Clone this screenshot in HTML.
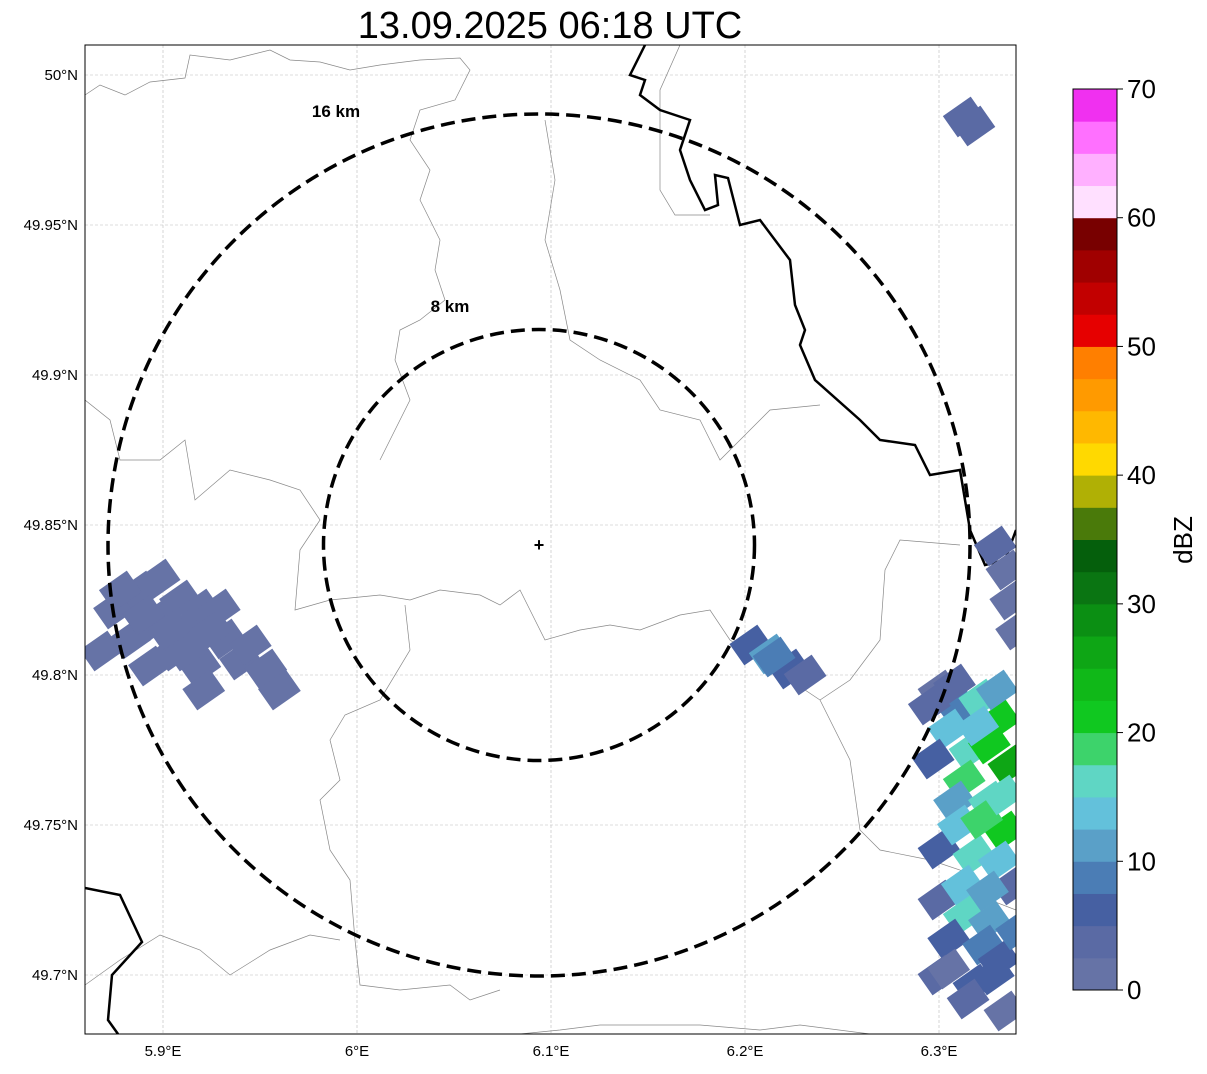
<!DOCTYPE html>
<html><head><meta charset="utf-8"><style>
body{margin:0;background:#fff;width:1207px;height:1069px;overflow:hidden;font-family:"Liberation Sans",sans-serif}
</style></head><body>
<svg id="chart" width="1207" height="1069" xmlns="http://www.w3.org/2000/svg" font-family="Liberation Sans, sans-serif">
<defs><clipPath id="mapclip"><rect x="85" y="45" width="931" height="989"/></clipPath></defs>
<text x="550" y="38" font-size="38" text-anchor="middle">13.09.2025 06:18 UTC</text>
<g id="grid"></g>
<g clip-path="url(#mapclip)">
<g id="borders" fill="none" stroke="#888" stroke-width="0.7">
<path d="M85,95 L100,85 L125,95 L150,82 L185,78 L190,55 L230,60 L270,50 L290,60 L320,62 L350,70 L380,65 L420,60 L460,58 L470,70 L455,100 L420,110 L410,140 L430,170 L420,200 L440,240 L435,270 L445,300 L420,320 L400,330 L395,360 L410,400 L390,440 L380,460"/>
<path d="M545,120 L555,180 L545,240 L560,290 L570,340 L600,360 L640,380 L660,410 L700,420 L720,460 L750,430 L770,410 L820,405"/>
<path d="M85,400 L110,420 L120,460 L160,460 L185,440 L195,500 L230,470 L270,480 L300,490 L320,520 L300,550 L295,610 L330,600 L380,595 L410,600 L440,590 L480,595 L500,605 L520,590 L545,640 L580,630 L610,625 L640,630 L680,615 L710,610 L730,640 L760,660"/>
<path d="M405,605 L410,650 L380,700 L345,715 L330,740 L340,780 L320,800 L330,850 L350,880 L355,940 L360,985 L400,990 L450,985 L470,1000 L500,990"/>
<path d="M760,660 L820,700 L850,680 L880,640 L885,570 L900,540 L960,545"/>
<path d="M820,700 L850,760 L860,830 L880,850 L930,860 L960,870 L990,900 L1016,910"/>
<path d="M85,985 L120,960 L160,935 L200,950 L230,975 L270,950 L310,935 L340,940"/>
<path d="M520,1034 L560,1030 L600,1025 L700,1025 L760,1030 L800,1025 L870,1034"/>
<path d="M680,45 L660,90 L660,190 L675,215 L710,215"/>
</g>
<path fill="none" stroke="#000" stroke-width="2.5" d="M645,45 L630,75 L645,80 L640,95 L660,110 L690,120 L680,150 L690,180 L705,210 L718,205 L715,175 L728,178 L740,225 L760,220 L790,260 L795,305 L805,330 L800,345 L815,380 L860,420 L880,440 L915,445 L930,475 L960,470 L970,530 L985,565 L1005,560 L1016,530"/>
<path fill="none" stroke="#000" stroke-width="2.5" d="M85,888 L120,895 L142,942 L112,975 L108,1020 L118,1034"/>
<g id="cells"></g>
</g>
<rect x="85" y="45" width="931" height="989" fill="none" stroke="#000" stroke-width="1"/>
<g id="rings"></g>
<g id="axes"></g>
<g id="cbar"></g>
<text transform="translate(1192,540) rotate(-90)" font-size="26" text-anchor="middle">dBZ</text>
</svg>
<script>
const lonTicks=[5.9,6.0,6.1,6.2,6.3];
const lonLabels=["5.9°E","6°E","6.1°E","6.2°E","6.3°E"];
const latTicks=[50,49.95,49.9,49.85,49.8,49.75,49.7];
const latLabels=["50°N","49.95°N","49.9°N","49.85°N","49.8°N","49.75°N","49.7°N"];
const cellLon=[5.875,5.888,5.898,5.883,5.896,5.909,5.919,5.906,5.919,5.932,5.940,5.921,5.893,5.953,5.960,5.929,5.868,5.910,5.878,5.903,5.925,5.890,5.912,5.945,
6.203,6.213,6.223,6.231,6.215,6.313,6.318,
6.329,6.337,6.335,6.340,6.300,6.311,6.321,6.331,6.305,6.316,6.326,6.297,6.313,6.308,6.326,6.334,6.300,6.318,6.331,6.300,6.313,6.326,6.305,6.323,6.300,6.318,6.334,6.331,6.336,6.295,6.308,6.320,6.330,6.310,6.322,6.333,6.305,6.315,6.328,6.338,6.340,6.312,6.325];
const cellLat=[49.822,49.828,49.832,49.812,49.818,49.825,49.822,49.808,49.803,49.812,49.805,49.795,49.803,49.802,49.795,49.822,49.808,49.815,49.828,49.815,49.815,49.820,49.808,49.810,
49.810,49.807,49.802,49.800,49.806,49.986,49.983,
49.843,49.825,49.835,49.815,49.795,49.788,49.792,49.785,49.782,49.775,49.777,49.772,49.765,49.758,49.758,49.748,49.742,49.740,49.738,49.725,49.720,49.718,49.712,49.710,49.700,49.697,49.688,49.705,49.770,49.790,49.797,49.783,49.795,49.750,49.752,49.760,49.702,49.692,49.700,49.730,49.715,49.730,49.728];
const cellDbz=[1,1,1,1,1,1,1,1,1,1,1,1,1,1,1,1,1,1,1,1,1,1,1,1,
6,12,5,3,8,4,4,
3,2,2,2,2,8,16,22,14,17,20,5,19,10,16,20,6,15,13,3,15,12,5,8,3,6,2,5,26,3,4,14,11,13,18,15,2,4,6,3,8,13,10];
const cbColors=["#6673a6","#5a6aa4","#4660a2","#4b7db5","#5aa0c8","#63c1db","#5fd6c4","#3dd36b","#10c820","#10b818","#0ea615","#0b8f13","#0a7512","#055f0c","#4a7a0a","#b0b005","#ffd900","#ffb800","#ff9a00","#ff7f00","#e60000","#c20000","#a00000","#780000","#ffe0ff","#ffb0ff","#ff70ff","#f030f0"];
const cbTicks=[0,10,20,30,40,50,60,70];
const ringKm=[8,16];
const NS="http://www.w3.org/2000/svg";
const xS=lon=>163+(lon-5.9)*1940;
const yS=lat=>75+(50-lat)*3000;
const cS=v=>990-v*(901/70);
function mk(t,a,p){const e=document.createElementNS(NS,t);for(const k in a)e.setAttribute(k,a[k]);p.appendChild(e);return e;}
const grid=document.getElementById('grid'),axes=document.getElementById('axes');
lonTicks.forEach((v,i)=>{
 const l=mk('line',{x1:xS(v),x2:xS(v),y1:45,y2:1034,stroke:'#bbb','stroke-width':0.6,'stroke-dasharray':'3,2'},grid);
 
 const t=mk('text',{x:xS(v),y:1056,'font-size':15,'text-anchor':'middle'},axes);t.textContent=lonLabels[i];
 
});
latTicks.forEach((v,i)=>{
 const l=mk('line',{x1:85,x2:1016,y1:yS(v),y2:yS(v),stroke:'#bbb','stroke-width':0.6,'stroke-dasharray':'3,2'},grid);
 
 const t=mk('text',{x:78,y:yS(v)+5,'font-size':15,'text-anchor':'end'},axes);t.textContent=latLabels[i];
 
});
const cells=document.getElementById('cells');
const col=v=>cbColors[Math.max(0,Math.min(27,Math.floor(v/2.5)))];
cellLon.forEach((lo,i)=>{
 const x=xS(lo),y=yS(cellLat[i]);
 const r=mk('rect',{x:x-17,y:y-13,width:34,height:26,fill:col(cellDbz[i]),transform:`rotate(-35 ${x} ${y})`},cells);
 
});
const rings=document.getElementById('rings');
const cx=539,cy=545,pxPerKm=431/16;
const labelDx={8:-89,16:-203};
const labelY={8:312,16:117};
ringKm.forEach(k=>{
 const c=mk('circle',{cx:cx,cy:cy,r:k*pxPerKm,fill:'none',stroke:'#000','stroke-width':3.5,'stroke-dasharray':'14,7'},rings);
 
 const t=mk('text',{x:cx+labelDx[k],y:labelY[k],'font-size':17,'font-weight':'bold','text-anchor':'middle'},rings);
 t.textContent=k+' km';
 
});
const m=mk('text',{x:cx,y:cy+6,'font-size':18,'font-weight':'bold','text-anchor':'middle'},rings);m.textContent='+';

const cb=document.getElementById('cbar');
cbColors.forEach((c,i)=>{
 const r=mk('rect',{x:1073,y:cS((i+1)*2.5),width:44,height:cS(i*2.5)-cS((i+1)*2.5)+0.5,fill:c},cb);
 
});
const f=mk('rect',{x:1073,y:89,width:44,height:901,fill:'none',stroke:'#000','stroke-width':1},cb);

cbTicks.forEach(v=>{
 mk('line',{x1:1117,x2:1123,y1:cS(v),y2:cS(v),stroke:'#000'},cb);
 const t=mk('text',{x:1127,y:cS(v)+9,'font-size':26},cb);t.textContent=v;
 
});
</script>
</body></html>
